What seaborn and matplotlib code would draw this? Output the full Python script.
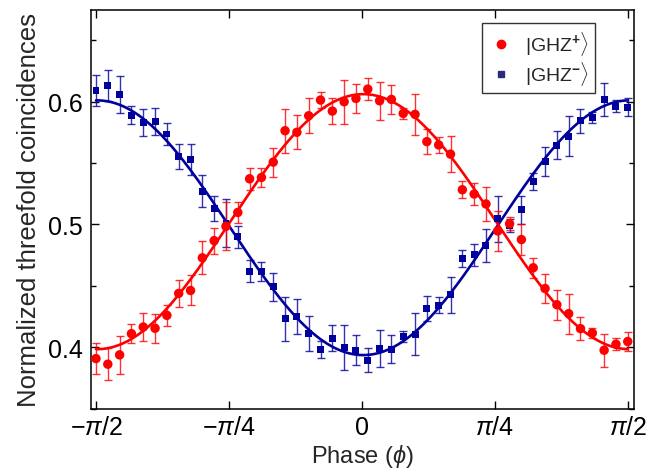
import numpy as np
import matplotlib
matplotlib.use("Agg")
import matplotlib.pyplot as plt
import seaborn as sns
from matplotlib.lines import Line2D
from matplotlib.ticker import MultipleLocator

# fase de la medida (grados), pasos de 4 grados
phase_deg = np.arange(-90, 91, 4)

# |GHZ+>
red_y = [0.3907, 0.3861, 0.3937, 0.4110, 0.4164, 0.4154, 0.4259, 0.4438, 0.4462, 0.4728,
         0.4868, 0.4985, 0.5098, 0.5372, 0.5383, 0.5508, 0.5764, 0.5751, 0.5886, 0.6014,
         0.5924, 0.6000, 0.6027, 0.6103, 0.6008, 0.6019, 0.5905, 0.5897, 0.5675, 0.5648,
         0.5573, 0.5283, 0.5248, 0.5167, 0.4947, 0.5006, 0.4877, 0.4647, 0.4478, 0.4346,
         0.4273, 0.4151, 0.4115, 0.3975, 0.4024, 0.4046]
red_err = [0.0125, 0.0129, 0.0153, 0.0075, 0.0112, 0.0118, 0.0087, 0.0108, 0.0122, 0.0134,
           0.0106, 0.0195, 0.0089, 0.0088, 0.0077, 0.0118, 0.0180, 0.0140, 0.0142, 0.0068,
           0.0107, 0.0180, 0.0118, 0.0090, 0.0153, 0.0118, 0.0045, 0.0170, 0.0102, 0.0065,
           0.0146, 0.0068, 0.0089, 0.0140, 0.0160, 0.0055, 0.0125, 0.0081, 0.0115, 0.0122,
           0.0164, 0.0095, 0.0043, 0.0135, 0.0050, 0.0077]

# |GHZ->
blue_y = [0.6095, 0.6135, 0.6060, 0.5890, 0.5830, 0.5840, 0.5737, 0.5553, 0.5532, 0.5270,
          0.5128, 0.5010, 0.4898, 0.4619, 0.4614, 0.4492, 0.4232, 0.4249, 0.4110, 0.3983,
          0.4072, 0.3997, 0.3975, 0.3894, 0.3989, 0.3983, 0.4086, 0.4105, 0.4314, 0.4343,
          0.4427, 0.4720, 0.4752, 0.4828, 0.5045, 0.4993, 0.5120, 0.5348, 0.5513, 0.5646,
          0.5719, 0.5846, 0.5873, 0.6020, 0.5965, 0.5955]
blue_err = [0.0126, 0.0127, 0.0150, 0.0075, 0.0110, 0.0107, 0.0088, 0.0103, 0.0125, 0.0130,
            0.0102, 0.0195, 0.0088, 0.0088, 0.0077, 0.0115, 0.0180, 0.0140, 0.0142, 0.0068,
            0.0106, 0.0180, 0.0120, 0.0100, 0.0153, 0.0115, 0.0043, 0.0170, 0.0100, 0.0065,
            0.0148, 0.0068, 0.0090, 0.0137, 0.0190, 0.0054, 0.0115, 0.0070, 0.0120, 0.0112,
            0.0165, 0.0099, 0.0043, 0.0135, 0.0050, 0.0074]

tick_labels = [r"$-\pi/2$", r"$-\pi/4$", r"$0$", r"$\pi/4$", r"$\pi/2$"]

RED = "#ff0000"
BLUE = "#00009c"

sns.set_theme(style="ticks")
plt.rcParams["font.family"] = ["Liberation Sans", "DejaVu Sans"]
plt.rcParams["mathtext.fontset"] = "custom"
plt.rcParams["mathtext.rm"] = "Liberation Sans"
plt.rcParams["mathtext.it"] = "Liberation Sans:italic"
plt.rcParams["mathtext.bf"] = "Liberation Sans:bold"

phi = np.deg2rad(phase_deg)


def fit_cos(y):
    # ajuste A + B cos(2phi) + C sin(2phi) por minimos cuadrados
    M = np.column_stack([np.ones_like(phi), np.cos(2 * phi), np.sin(2 * phi)])
    coef, *_ = np.linalg.lstsq(M, np.asarray(y), rcond=None)
    xs = np.linspace(phi.min(), phi.max(), 300)
    return xs, coef[0] + coef[1] * np.cos(2 * xs) + coef[2] * np.sin(2 * xs)


fig = plt.figure(figsize=(6.71, 4.77), dpi=100)
ax = fig.add_axes([0.1356, 0.1415, 0.8093, 0.836])

for y, err, col, mk, ms in [(blue_y, blue_err, BLUE, "s", 5.0), (red_y, red_err, RED, "o", 6.8)]:
    xs, yf = fit_cos(y)
    sns.lineplot(x=xs, y=yf, color=col, lw=1.9, ax=ax, zorder=2)
    ax.errorbar(phi, y, yerr=err, fmt="none", ecolor=col, elinewidth=1.0,
                capsize=3, capthick=1.0, alpha=0.8, zorder=3)
    sns.scatterplot(x=phi, y=y, color=col, marker=mk, s=ms ** 2, edgecolor="none",
                    ax=ax, zorder=4)

ax.set_xlim(-np.pi / 2 - 0.0295, np.pi / 2 + 0.037)
ax.set_ylim(0.35, 0.675)
ax.set_xticks(np.arange(-2, 3) * np.pi / 4)
ax.set_xticklabels(tick_labels)
ax.yaxis.set_major_locator(MultipleLocator(0.1))
ax.yaxis.set_minor_locator(MultipleLocator(0.05))
ax.tick_params(which="both", direction="in", top=True, right=True, width=1.0,
               labelsize=18, colors="black")
ax.tick_params(which="major", length=6)
ax.tick_params(which="minor", length=3.5)
ax.tick_params(axis="x", pad=5)
ax.tick_params(axis="y", pad=6)
for s in ax.spines.values():
    s.set_linewidth(1.1)
    s.set_color("black")

ax.set_xlabel(r"Phase ($\phi$)", fontsize=17, labelpad=2)
ax.set_ylabel("Normalized threefold coincidences", fontsize=18.5, labelpad=5)

handles = [
    Line2D([], [], ls="", marker="o", color=RED, markersize=6),
    Line2D([], [], ls="", marker="s", color="#2b2b7e", markersize=4.5),
]
labels = [r"$|\mathrm{GHZ}^{\mathbf{+}}\rangle$", r"$|\mathrm{GHZ}^{\mathbf{-}}\rangle$"]
leg = ax.legend(handles, labels, loc="upper right", bbox_to_anchor=(0.928, 0.966),
                borderaxespad=0, fontsize=14, frameon=True, fancybox=False,
                handletextpad=0.6, handlelength=1.3, borderpad=0.3, labelspacing=0.12)
leg.get_frame().set_edgecolor("black")
leg.get_frame().set_linewidth(1.0)

plt.savefig("out.png", dpi=100)
plt.close()
